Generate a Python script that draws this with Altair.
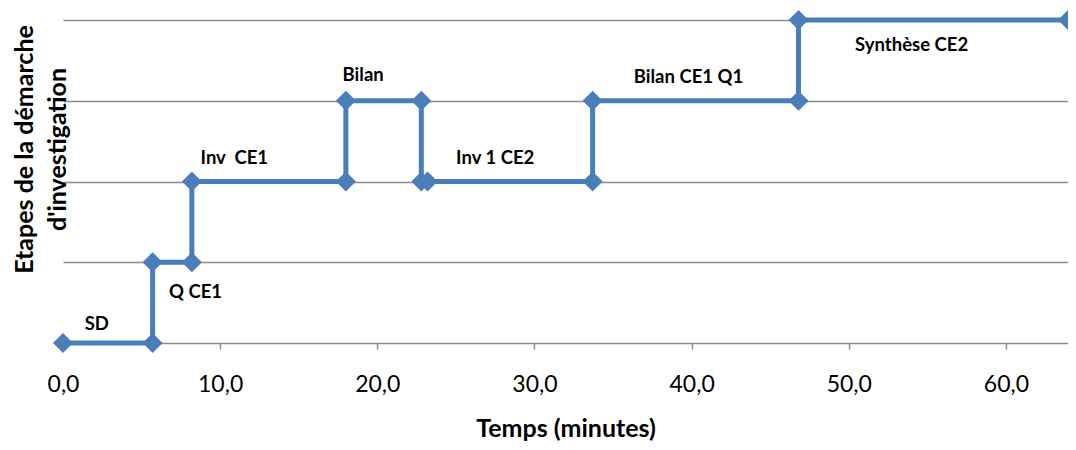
import altair as alt
import pandas as pd

# data
temps = [0.0, 5.7, 5.7, 8.2, 8.2, 18.0, 18.0, 22.8, 22.8, 23.2, 33.7, 33.7, 46.8, 46.8, 63.95]
etape = [0, 0, 1, 1, 2, 2, 3, 3, 2, 2, 2, 3, 3, 4, 4]

label_text = ["SD", "Q CE1", "Inv\u00a0 CE1", "Bilan", "Inv 1 CE2", "Bilan CE1 Q1", "Synthèse CE2"]
label_x = [2.15, 8.43, 10.9, 19.1, 27.5, 39.8, 54.0]
label_y = [0.235, 0.63, 2.29, 3.32, 2.29, 3.29, 3.69]

x_ticks = [0, 10, 20, 30, 40, 50, 60]

df = pd.DataFrame({"t": temps, "e": etape, "i": list(range(len(temps)))})
lab = pd.DataFrame({"txt": label_text, "x": label_x, "y": label_y})

FONT = "Lato"
BLUE = "#4a7ebb"

xs = alt.Scale(domain=[0, 63.95], nice=False, zero=False)
ys = alt.Scale(domain=[0, 4], nice=False)

xax = alt.Axis(
    title="Temps (minutes)", values=x_ticks,
    labelExpr="replace(format(datum.value, '.1f'), '.', ',')",
    labelFlush=False, labelOverlap=False,
    grid=False, domain=False, ticks=True, tickColor="#8c8c8c", tickSize=6, tickWidth=1.5,
    labelFont=FONT, labelFontSize=23, labelColor="#000", labelPadding=24,
    titleFont=FONT, titleFontSize=25, titleFontWeight="bold", titleColor="#000",
    titleBaseline="alphabetic", titleY=93,
)
yax = alt.Axis(
    title=["Etapes de la démarche", "d'investigation"], values=[0, 1, 2, 3, 4],
    labels=False, ticks=False, domain=False, grid=True, gridColor="#8c8c8c", gridWidth=1.5,
    titleFont=FONT, titleFontSize=25, titleFontWeight="bold", titleColor="#000",
    titleLineHeight=33,
    titleAngle=-90, titleAlign="center", titleBaseline="middle", titleX=-39, titleY=129,
)

line = alt.Chart(df).mark_line(color=BLUE, strokeWidth=5).encode(
    x=alt.X("t:Q", scale=xs, axis=xax),
    y=alt.Y("e:Q", scale=ys, axis=yax),
    order="i:Q",
)
pts = alt.Chart(df).mark_point(shape="diamond", filled=True, color=BLUE, size=400, opacity=1).encode(
    x=alt.X("t:Q", scale=xs), y=alt.Y("e:Q", scale=ys)
)
txt = alt.Chart(lab).mark_text(font=FONT, fontSize=18.5, fontWeight="bold", color="#000").encode(
    x=alt.X("x:Q", scale=xs), y=alt.Y("y:Q", scale=ys), text="txt:N"
)

chart = alt.layer(line, pts, txt).properties(
    width=1005, height=323,
    background="white",
    autosize=alt.AutoSizeParams(type="none"),
    padding={"left": 55, "top": 12, "right": 0, "bottom": 99},
).configure_view(stroke=None)

chart.save("out.html", embed_options={"renderer": "svg", "actions": False})
